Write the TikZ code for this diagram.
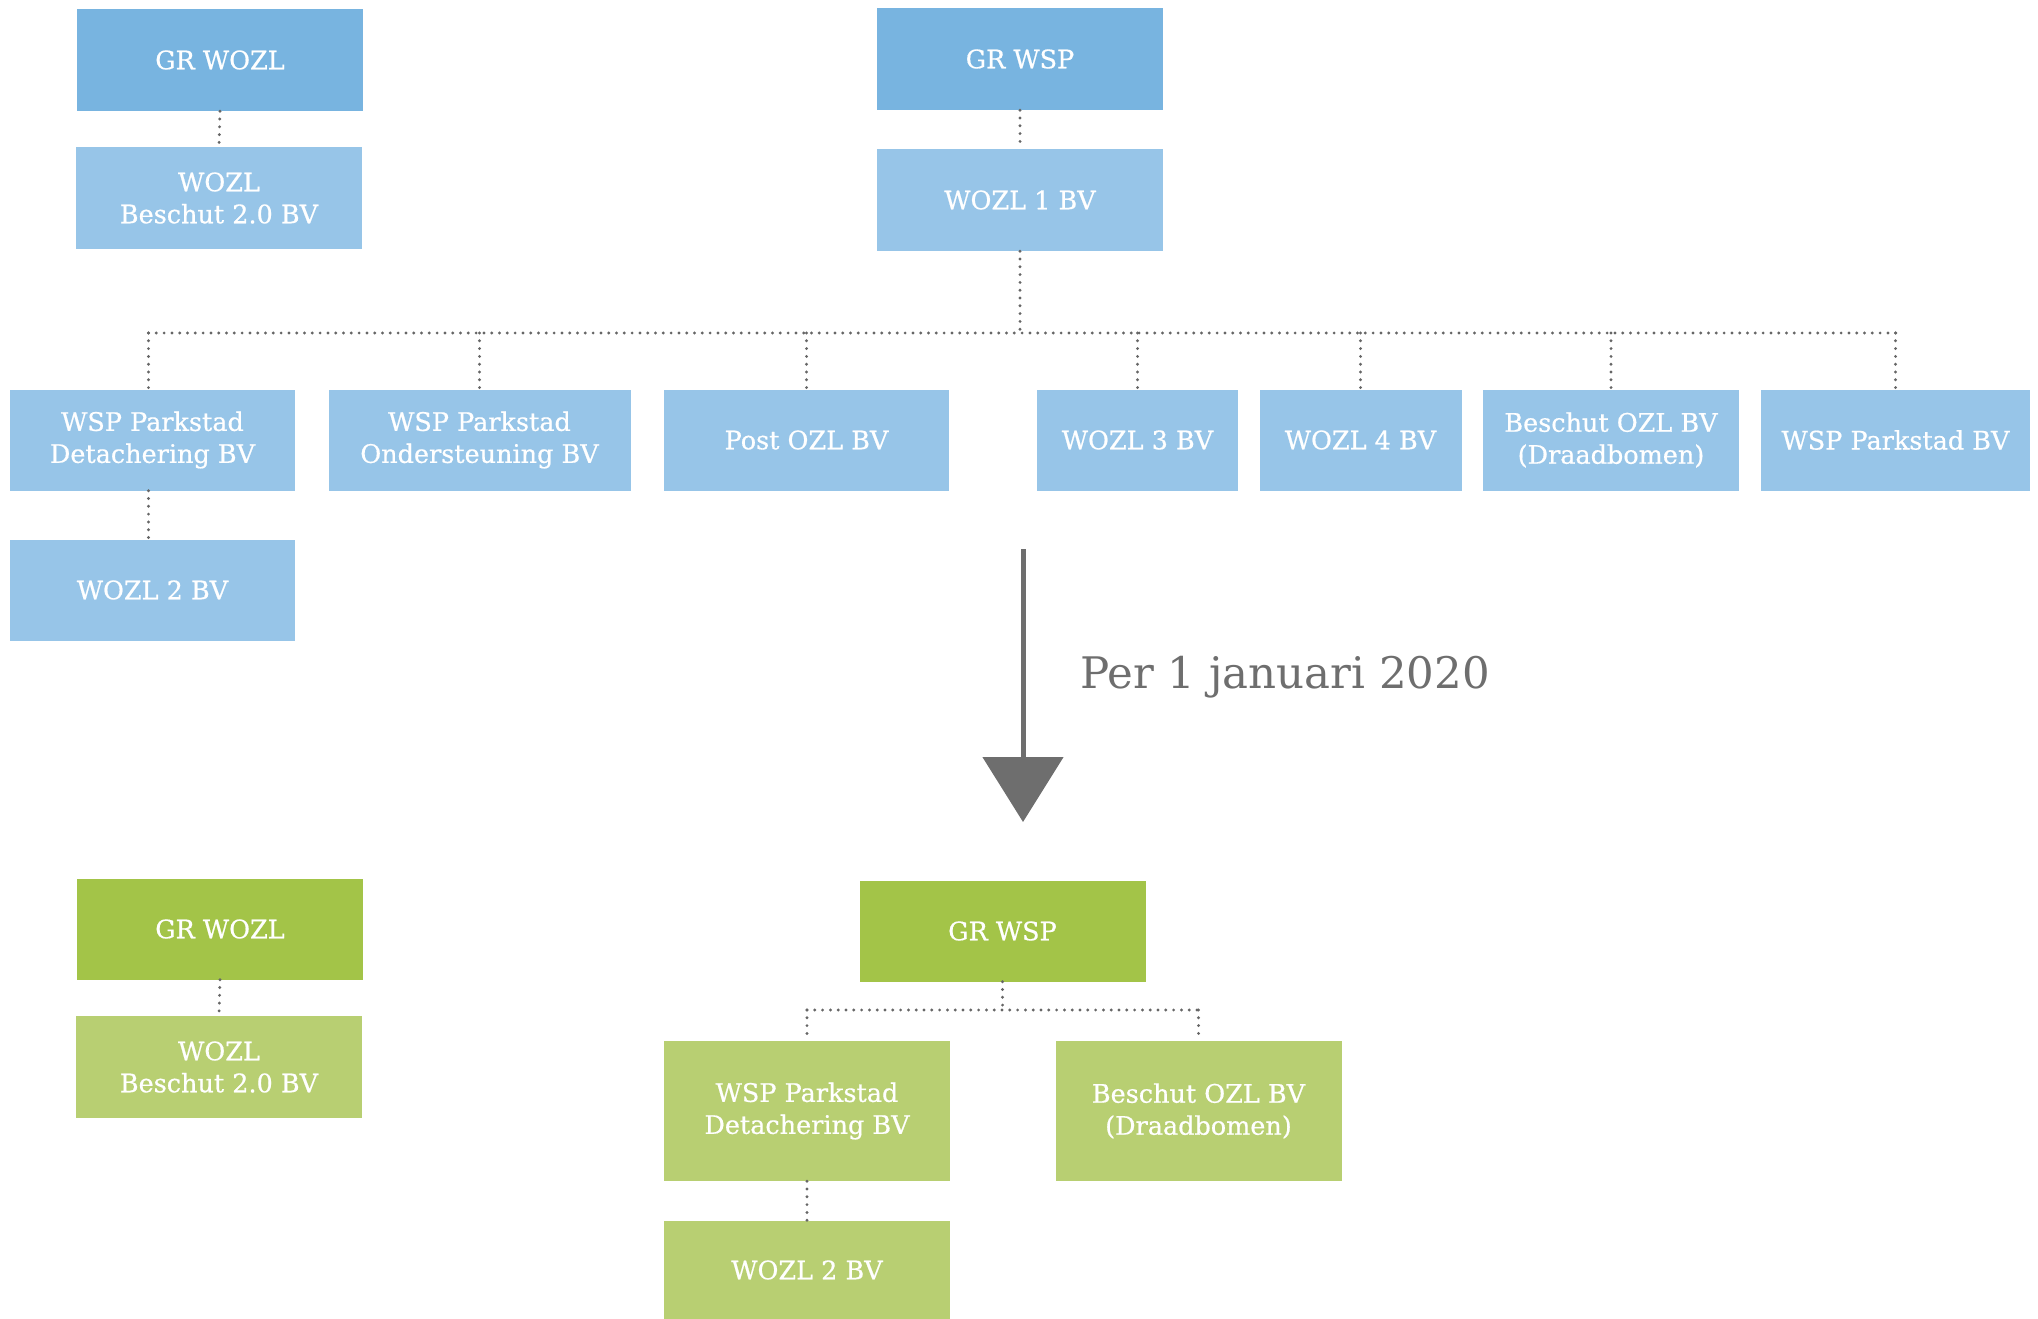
\documentclass[tikz,border=0pt]{standalone}
\usepackage{fontspec}
\setmainfont{DejaVu Serif}
\newfontfamily\boxfont[FakeBold=0.6]{DejaVu Serif}
\usetikzlibrary{arrows.meta}
\definecolor{bluedark}{HTML}{78B4E0}
\definecolor{bluelight}{HTML}{97C5E8}
\definecolor{greendark}{HTML}{A3C448}
\definecolor{greenlight}{HTML}{B8CF72}
\definecolor{dotc}{HTML}{666666}
\definecolor{arrc}{HTML}{6E6E6E}
\tikzset{
  box/.style={rectangle, inner sep=0pt, text=white, align=center,
    font=\boxfont\fontsize{25.5}{32}\selectfont, minimum width=286pt, minimum height=102pt},
  bd/.style={box, fill=bluedark},
  bl/.style={box, fill=bluelight},
  gd/.style={box, fill=greendark},
  gl/.style={box, fill=greenlight},
  dotline/.style={draw=dotc, line width=3.2pt, line cap=round, dash pattern=on 0pt off 7.8pt},
}
\begin{document}
\begin{tikzpicture}[x=1pt, y=-1pt]
\useasboundingbox (0,0) rectangle (2038,1319);
% ---------- top: current structure ----------
\node[bd] (grwozl) at (220,60) {GR WOZL};
\node[bl] (wozlb) at (219,198) {WOZL\\Beschut 2.0 BV};
\node[bd] (grwsp) at (1020,59) {GR WSP};
\node[bl] (wozl1) at (1020,200) {WOZL 1 BV};
\node[bl, minimum width=285pt, minimum height=101pt] (det) at (152.5,440) {WSP Parkstad\\Detachering BV};
\node[bl, minimum width=302pt, minimum height=101pt] (ond) at (479.5,440) {WSP Parkstad\\Ondersteuning BV};
\node[bl, minimum width=285pt, minimum height=101pt] (post) at (806.5,440) {Post OZL BV};
\node[bl, minimum width=201pt, minimum height=101pt] (w3) at (1137.5,440) {WOZL 3 BV};
\node[bl, minimum width=202pt, minimum height=101pt] (w4) at (1360.5,440) {WOZL 4 BV};
\node[bl, minimum width=256pt, minimum height=101pt] (besch) at (1611,440) {Beschut OZL BV\\(Draadbomen)};
\node[bl, minimum width=269pt, minimum height=101pt] (wspbv) at (1895.5,440) {WSP Parkstad BV};
\node[bl, minimum width=285pt, minimum height=101pt] (wozl2) at (152.5,590) {WOZL 2 BV};
\coordinate (bus) at (1020,333);
\draw[dotline] (grwozl.south) -- (wozlb.north);
\draw[dotline] (grwsp.south) -- (wozl1.north);
\draw[dotline] (wozl1.south) -- (bus);
\draw[dotline] ([xshift=-4pt]det.north |- bus) -- ([xshift=2pt]wspbv.north |- bus);
\draw[dotline] ([xshift=-4pt]det.north |- bus) -- ([xshift=-4pt]det.north);
\foreach \n in {ond,post,w3,w4,besch,wspbv}{
  \draw[dotline] (\n.north |- bus) -- (\n.north);
}
\draw[dotline] ([xshift=-4pt]det.south) -- ([xshift=-4pt]wozl2.north);
% ---------- transition arrow ----------
\coordinate (arrtop) at (1023,549);
\coordinate (arrtip) at (1023,822);
\draw[arrc, line width=5pt, -{Triangle[width=80pt,length=65pt]}] (arrtop) -- (arrtip);
\node[anchor=base west, inner sep=0pt, text=arrc, font=\fontsize{43.5}{50}\selectfont] (per) at (1080,688) {Per 1 januari 2020};
% ---------- bottom: new structure ----------
\node[gd, minimum height=101pt] (ggrwozl) at (220,929) {GR WOZL};
\node[gl] (gwozlb) at (219,1067) {WOZL\\Beschut 2.0 BV};
\node[gd, minimum height=101pt] (ggrwsp) at (1002.5,931) {GR WSP};
\node[gl, minimum height=140pt] (gdet) at (807,1111) {WSP Parkstad\\Detachering BV};
\node[gl, minimum height=140pt] (gbesch) at (1198.5,1111) {Beschut OZL BV\\(Draadbomen)};
\node[gl, minimum height=99pt] (gwozl2) at (807,1270) {WOZL 2 BV};
\coordinate (gbus) at (1002.5,1010);
\draw[dotline] (ggrwozl.south) -- (gwozlb.north);
\draw[dotline] (ggrwsp.south) -- (gbus);
\draw[dotline] (gdet.north |- gbus) -- (gbesch.north |- gbus);
\draw[dotline] (gdet.north |- gbus) -- (gdet.north);
\draw[dotline] (gbesch.north |- gbus) -- (gbesch.north);
\draw[dotline] (gdet.south) -- (gwozl2.north);
\end{tikzpicture}
\end{document}
